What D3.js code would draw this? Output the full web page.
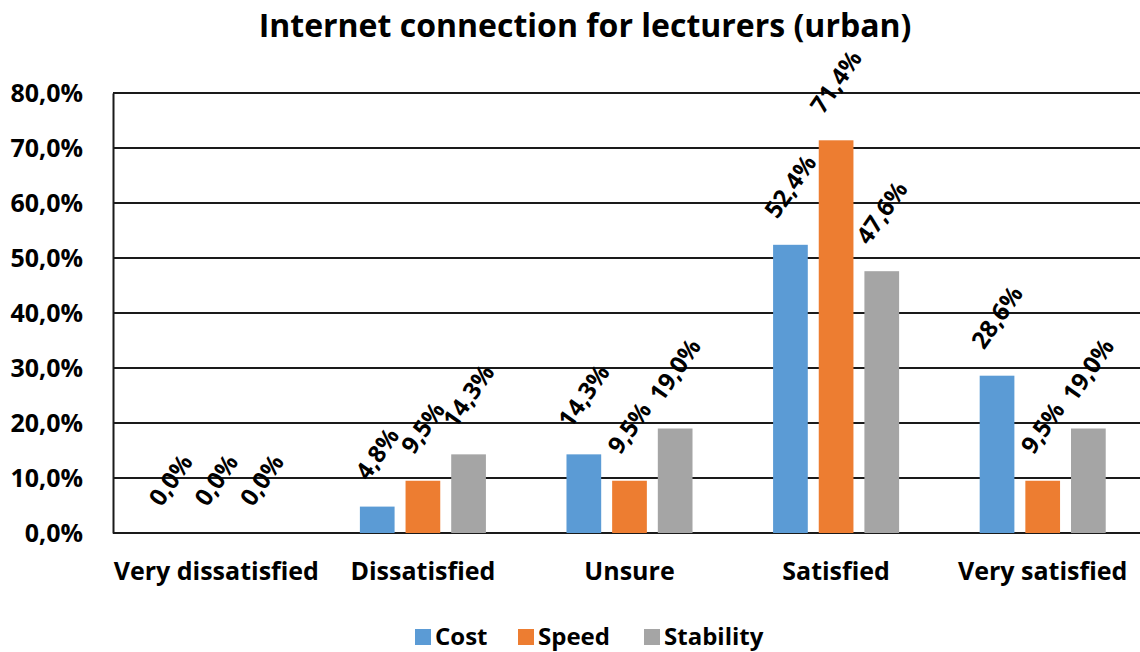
<!DOCTYPE html>
<html>
<head>
<meta charset="utf-8">
<script src="https://cdn.jsdelivr.net/npm/d3@7"></script>
<style>
  body { margin: 0; background: #fff; }
  text { font-family: "Open Sans", "Noto Sans", sans-serif; font-weight: bold; fill: #000; }
</style>
</head>
<body>
<script>
// data
const categories = ["Very dissatisfied", "Dissatisfied", "Unsure", "Satisfied", "Very satisfied"];
const seriesNames = ["Cost", "Speed", "Stability"];
const cost = [0.0, 4.8, 14.3, 52.4, 28.6];
const speed = [0.0, 9.5, 9.5, 71.4, 9.5];
const stability = [0.0, 14.3, 19.0, 47.6, 19.0];
const yTicks = [0, 10, 20, 30, 40, 50, 60, 70, 80];
const colors = ["#5B9BD5", "#ED7D31", "#A5A5A5"];

const width = 1140;
const height = 652;
const plotLeft = 113, plotRight = 1146, plotTop = 93, plotBottom = 533;

const seriesValues = [cost, speed, stability];
const data = categories.map((c, i) => ({
    cat: c,
    vals: seriesNames.map((s, j) => ({ name: s, value: seriesValues[j][i], idx: j }))
}));

const svg = d3.select("body").append("svg")
    .attr("width", width)
    .attr("height", height);

// scales
const x0 = d3.scaleBand()
    .domain(categories)
    .range([plotLeft, plotRight])
    .paddingInner(0.39)
    .paddingOuter(0.195);

const x1 = d3.scaleBand()
    .domain(seriesNames)
    .range([0, x0.bandwidth()])
    .paddingInner(0.24);

const y = d3.scaleLinear()
    .domain([0, 80])
    .range([plotBottom, plotTop]);

// title
svg.append("text")
    .attr("x", 585)
    .attr("y", 37)
    .attr("text-anchor", "middle")
    .style("font-size", "32px")
    .text("Internet connection for lecturers (urban)");

// gridlines
svg.append("g")
    .selectAll("line")
    .data(yTicks)
    .enter()
    .append("line")
    .attr("x1", plotLeft)
    .attr("x2", width)
    .attr("y1", d => y(d))
    .attr("y2", d => y(d))
    .attr("stroke", "#1a1a1a")
    .attr("stroke-width", 2);

// left axis
const leftAxis = d3.axisLeft(y)
    .tickValues(yTicks)
    .tickSize(0)
    .tickPadding(30)
    .tickFormat(d => d.toFixed(1).replace(".", ",") + "%");

const yAxis = svg.append("g")
    .attr("transform", "translate(" + plotLeft + ",0)")
    .call(leftAxis);
yAxis.select(".domain").attr("stroke", "#1a1a1a").attr("stroke-width", 2);
yAxis.selectAll("text")
    .style("font-size", "25px")
    .style("font-family", "'Open Sans', sans-serif")
    .style("font-weight", "bold");

// category labels
const bottomAxis = d3.axisBottom(x0).tickSize(0).tickPadding(29);
const xAxis = svg.append("g")
    .attr("transform", "translate(0," + plotBottom + ")")
    .call(bottomAxis);
xAxis.select(".domain").remove();
xAxis.selectAll("text")
    .style("font-size", "25px")
    .style("font-family", "'Open Sans', sans-serif")
    .style("font-weight", "bold");

// bars
const groups = svg.append("g")
    .selectAll("g")
    .data(data)
    .enter()
    .append("g")
    .attr("transform", d => "translate(" + x0(d.cat) + ",0)");

groups.selectAll("rect")
    .data(d => d.vals)
    .enter()
    .append("rect")
    .attr("x", d => x1(d.name))
    .attr("y", d => y(d.value))
    .attr("width", x1.bandwidth())
    .attr("height", d => plotBottom - y(d.value))
    .attr("fill", d => colors[d.idx]);

// data labels, rotated
const angle = 55;
const rad = angle * Math.PI / 180;
const fs = 24;
groups.selectAll("text.lbl")
    .data(d => d.vals)
    .enter()
    .append("text")
    .attr("class", "lbl")
    .attr("text-anchor", "middle")
    .attr("dy", "0.35em")
    .style("font-size", fs + "px")
    .text(d => d.value.toFixed(1).replace(".", ",") + "%")
    .each(function(d) {
        const L = this.getComputedTextLength();
        const h = fs * 0.72;
        const H = L * Math.sin(rad) + h * Math.cos(rad);
        const cx = x1(d.name) + x1.bandwidth() / 2;
        const cy = y(d.value) - 25 - H / 2;
        d3.select(this).attr("transform", "translate(" + cx + "," + cy + ") rotate(" + (-angle) + ")");
    });

// legend
const legendX = [415, 518, 644];
const legend = svg.append("g")
    .selectAll("g")
    .data(seriesNames)
    .enter()
    .append("g")
    .attr("transform", (d, i) => "translate(" + legendX[i] + ",629)");

legend.append("rect")
    .attr("width", 16)
    .attr("height", 16)
    .attr("fill", (d, i) => colors[i]);

legend.append("text")
    .attr("x", 20)
    .attr("y", 16)
    .style("font-size", "24px")
    .text(d => d);
</script>
</body>
</html>
